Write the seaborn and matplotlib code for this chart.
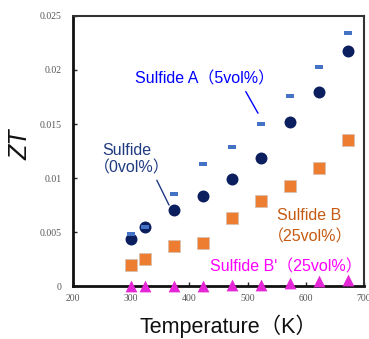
import matplotlib
matplotlib.use("Agg")
import matplotlib.pyplot as plt
import matplotlib.transforms as mtransforms
import seaborn as sns
import pandas as pd
from matplotlib.ticker import FixedLocator, FixedFormatter

# Measurement temperatures (K)
temperature = [300, 323, 373, 423, 473, 523, 573, 623, 673]

# ZT of each sample
zt_sulfide_0 = [0.0044, 0.0055, 0.0070, 0.0083, 0.0099, 0.0119, 0.0152, 0.0180, 0.0218]
zt_sulfide_a = [0.0048, 0.0055, 0.0085, 0.0113, 0.0129, 0.0150, 0.0176, 0.0203, 0.0234]
zt_sulfide_b = [0.0020, 0.0025, 0.0037, 0.0040, 0.0063, 0.0079, 0.0093, 0.0109, 0.0135]
zt_sulfide_b2 = [0.0000, 0.0000, 0.0000, 0.0000, 0.0001, 0.0001, 0.0003, 0.0005, 0.0006]

x_ticks = [200, 300, 400, 500, 600, 700]
y_ticks = [0, 0.005, 0.01, 0.015, 0.02, 0.025]
y_tick_labels = ["0", "0.005", "0.01", "0.015", "0.02", "0.025"]

df = pd.DataFrame({
    "T": temperature,
    "s0": zt_sulfide_0,
    "sA": zt_sulfide_a,
    "sB": zt_sulfide_b,
    "sB2": zt_sulfide_b2,
})

sns.set_theme(style="ticks")
sans = ["Liberation Sans", "Noto Sans CJK JP", "DejaVu Sans"]
plt.rcParams["font.family"] = sans

fig = plt.figure(figsize=(3.69, 3.39), dpi=100)
ax = fig.add_axes([0.198, 0.156, 0.788, 0.797])

dash = [(-3.6, -1.3), (3.6, -1.3), (3.6, 1.3), (-3.6, 1.3)]

sns.scatterplot(data=df, x="T", y="sB", ax=ax, marker="s", s=64,
                color="#ed7d31", edgecolor="#d9c0b0", linewidth=0.6, zorder=3)
sns.scatterplot(data=df, x="T", y="s0", ax=ax, marker="o", s=74,
                color="#0b1f5e", edgecolor="#0b1f5e", linewidth=0, zorder=3)
sns.scatterplot(data=df, x="T", y="sA", ax=ax, marker=dash, s=40,
                color="#4472c4", linewidth=0, zorder=4)
sns.scatterplot(data=df, x="T", y="sB2", ax=ax, marker="^", s=72,
                color="#e526d6", linewidth=0, zorder=5, clip_on=False)

ax.set_xlim(200, 700)
ax.set_ylim(0, 0.025)
ax.xaxis.set_major_locator(FixedLocator(x_ticks))
ax.yaxis.set_major_locator(FixedLocator(y_ticks))
ax.yaxis.set_major_formatter(FixedFormatter(y_tick_labels))
ax.tick_params(direction="in", length=3, width=1, colors="#222222",
               labelcolor="#555555", labelsize=7)
ax.tick_params(axis="x", pad=6)
ax.tick_params(axis="y", pad=8)
for lab in ax.get_xticklabels() + ax.get_yticklabels():
    lab.set_family("Liberation Serif")

for side in ["left", "bottom"]:
    ax.spines[side].set_linewidth(2.0)
    ax.spines[side].set_color("#111111")
for side in ["top", "right"]:
    ax.spines[side].set_visible(True)
    ax.spines[side].set_linewidth(1.5)
    ax.spines[side].set_color("#333333")

ax.set_xlabel("Temperature（K）", fontsize=15.5, color="#111111")
ax.xaxis.set_label_coords(0.535, -0.105)
ax.set_ylabel("ZT", fontsize=18, style="italic", color="#111111")
ax.yaxis.set_label_coords(-0.138, 0.525)

# Lines that open with a full-width bracket are pulled left so the bracket
# lines up with the line above it
pull_left = mtransforms.offset_copy(ax.transData, fig=fig, x=-6, y=0, units="points")
fs = 11.5

# Series labels with leader lines
ax.text(306, 0.0192, "Sulfide A（5vol%）", color="#0000ff", fontsize=fs,
        va="center", ha="left")
ax.plot([497, 518], [0.0180, 0.0160], color="#0000ff", lw=1)

ax.text(250, 0.01259, "Sulfide", color="#1f3a80", fontsize=fs,
        va="center", ha="left")
ax.text(250, 0.01093, "（0vol%）", color="#1f3a80", fontsize=fs,
        va="center", ha="left", transform=pull_left)
ax.plot([344, 365], [0.0098, 0.0075], color="#1f3a80", lw=1)

ax.text(550, 0.00657, "Sulfide B", color="#c55a11", fontsize=fs,
        va="center", ha="left")
ax.text(550, 0.00454, "（25vol%）", color="#c55a11", fontsize=fs,
        va="center", ha="left", transform=pull_left)

ax.text(435, 0.00176, "Sulfide B'（25vol%）", color="#ff00ff", fontsize=fs,
        va="center", ha="left")

fig.savefig("out.png", dpi=100)
